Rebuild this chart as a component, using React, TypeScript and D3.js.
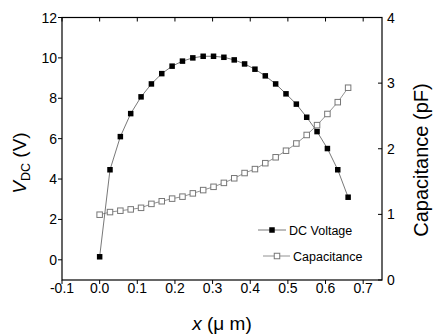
import React, { useEffect } from "react";
import * as d3 from "d3";

const xValues = [0, 0.0275, 0.055, 0.0825, 0.11, 0.1375, 0.165, 0.1925, 0.22, 0.2475, 0.275, 0.3025, 0.33, 0.3575, 0.385, 0.4125, 0.44, 0.4675, 0.495, 0.5225, 0.55, 0.5775, 0.605, 0.6325, 0.66];
const dcVoltage = [0.15, 4.46, 6.1, 7.24, 8.07, 8.71, 9.22, 9.59, 9.84, 10.0, 10.08, 10.08, 10.03, 9.9, 9.7, 9.44, 9.11, 8.71, 8.22, 7.71, 7.06, 6.35, 5.51, 4.46, 3.1];
const capacitance = [0.995, 1.035, 1.056, 1.076, 1.1, 1.16, 1.2, 1.24, 1.27, 1.32, 1.37, 1.42, 1.48, 1.55, 1.63, 1.69, 1.78, 1.87, 1.97, 2.08, 2.21, 2.36, 2.53, 2.71, 2.93];
const xTicks = [-0.1, 0, 0.1, 0.2, 0.3, 0.4, 0.5, 0.6, 0.7];
const yLeftTicks = [0, 2, 4, 6, 8, 10, 12];
const yRightTicks = [0, 1, 2, 3, 4];
const legendLabels = ["DC Voltage", "Capacitance"];

const W = 433, H = 336;
const L = 62, R = 382, T = 17.5, B = 280;
const FONT = "'Liberation Sans', Arial, sans-serif";

export default function App() {
  useEffect(() => { document.body.style.margin = "0"; }, []);
  const x = d3.scaleLinear().domain([-0.1, 0.75]).range([L, R]);
  const yL = d3.scaleLinear().domain([-1, 12]).range([B, T]);
  const yR = d3.scaleLinear().domain([0, 4]).range([B, T]);
  const lineV = d3.line<number>().x((_, i) => x(xValues[i])).y((d) => yL(d));
  const lineC = d3.line<number>().x((_, i) => x(xValues[i])).y((d) => yR(d));
  const ms = 5.5;
  return (
    <svg width={W} height={H} style={{ display: "block", position: "absolute", left: 0, top: 0, background: "#fff" }} fontFamily={FONT}>
      <rect x={0} y={0} width={W} height={H} fill="#fff" />
      <path d={lineC(capacitance) || ""} fill="none" stroke="#777" strokeWidth={0.8} />
      <path d={lineV(dcVoltage) || ""} fill="none" stroke="#555" strokeWidth={0.8} />
      {capacitance.map((d, i) => (
        <rect key={"c" + i} x={x(xValues[i]) - ms / 2} y={yR(d) - ms / 2} width={ms} height={ms} fill="#fff" stroke="#777" strokeWidth={1} />
      ))}
      {dcVoltage.map((d, i) => (
        <rect key={"v" + i} x={x(xValues[i]) - ms / 2} y={yL(d) - ms / 2} width={ms} height={ms} fill="#000" />
      ))}
      <rect x={L} y={T} width={R - L} height={B - T} fill="none" stroke="#000" strokeWidth={1.2} />
      {xTicks.map((t) => (
        <g key={"xt" + t}>
          <line x1={x(t)} x2={x(t)} y1={B} y2={B + 4} stroke="#000" strokeWidth={1} />
          <line x1={x(t)} x2={x(t)} y1={T} y2={T + 4} stroke="#000" strokeWidth={1} />
          <text x={x(t)} y={292.5} fontSize={14} textAnchor="middle">{t.toFixed(1)}</text>
        </g>
      ))}
      {yLeftTicks.map((t) => (
        <g key={"yl" + t}>
          <line x1={L - 4} x2={L} y1={yL(t)} y2={yL(t)} stroke="#000" strokeWidth={1} />
          <text x={57} y={yL(t) + 5} fontSize={14} textAnchor="end">{t}</text>
        </g>
      ))}
      {yRightTicks.map((t) => (
        <g key={"yr" + t}>
          <line x1={R - 4} x2={R} y1={yR(t)} y2={yR(t)} stroke="#000" strokeWidth={1} />
          <text x={387} y={yR(t) + 5} fontSize={14} textAnchor="start">{t}</text>
        </g>
      ))}
      <text x={222} y={330} fontSize={19} textAnchor="middle">
        <tspan fontStyle="italic">x</tspan> (μ m)
      </text>
      <text transform="translate(26,163) rotate(-90)" fontSize={19} textAnchor="middle">
        <tspan fontStyle="italic">V</tspan><tspan fontSize={12.5} dy={4}>DC</tspan><tspan dy={-4}> (V)</tspan>
      </text>
      <text transform="translate(428,160) rotate(-90)" fontSize={20} textAnchor="middle">Capacitance (pF)</text>
      <line x1={258} x2={286} y1={230} y2={230} stroke="#555" strokeWidth={0.8} />
      <rect x={272 - ms / 2} y={230 - ms / 2} width={ms} height={ms} fill="#000" />
      <text x={289} y={234.5} fontSize={12.5}>{legendLabels[0]}</text>
      <line x1={263} x2={290} y1={256} y2={256} stroke="#777" strokeWidth={0.8} />
      <rect x={277 - ms / 2} y={256 - ms / 2} width={ms} height={ms} fill="#fff" stroke="#777" strokeWidth={1} />
      <text x={293} y={260.5} fontSize={12.5}>{legendLabels[1]}</text>
    </svg>
  );
}
